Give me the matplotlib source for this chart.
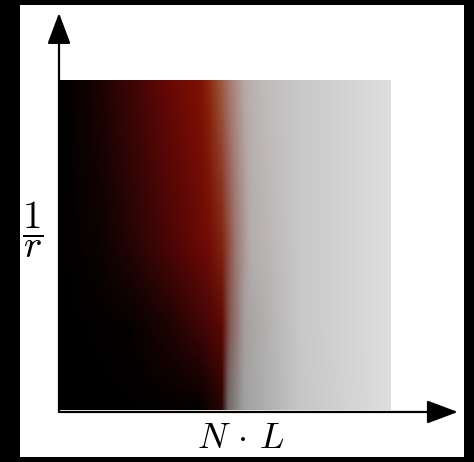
import numpy as np
import matplotlib
matplotlib.use('Agg')
from matplotlib import pyplot as plt
from matplotlib.patches import Rectangle

plt.rcParams['mathtext.fontset'] = 'cm'

# lookup texture: colour stops along N.L for a few values of 1/r
inv_r_rows = [0.0, 0.25, 0.5, 1.0]

nl_row0 = [0.0, 0.423, 0.489, 0.508, 0.556, 0.725, 1.0]
rgb_row0 = [(0, 0, 0), (3, 0, 0), (40, 4, 4), (110, 105, 105),
            (160, 160, 160), (198, 198, 198), (222, 222, 222)]

nl_row1 = [0.0, 0.211, 0.332, 0.423, 0.489, 0.514, 0.559, 0.725, 1.0]
rgb_row1 = [(0, 0, 0), (5, 1, 1), (30, 3, 3), (60, 5, 5), (90, 8, 5),
            (130, 90, 85), (165, 160, 160), (200, 200, 200), (222, 222, 222)]

nl_row2 = [0.0, 0.121, 0.242, 0.363, 0.453, 0.489, 0.529, 0.574, 0.725, 1.0]
rgb_row2 = [(0, 0, 0), (12, 2, 2), (45, 5, 5), (85, 6, 5), (115, 12, 5),
            (128, 35, 15), (155, 115, 110), (180, 172, 172),
            (200, 200, 200), (222, 222, 222)]

nl_row3 = [0.0, 0.091, 0.211, 0.332, 0.423, 0.45, 0.478, 0.51, 0.56, 0.62, 0.725, 1.0]
rgb_row3 = [(0, 0, 0), (20, 2, 2), (60, 5, 5), (105, 8, 5), (126, 16, 3),
            (138, 38, 12), (152, 75, 50), (166, 118, 110), (182, 170, 168),
            (192, 188, 188), (200, 200, 200), (222, 222, 222)]

rows = [(nl_row0, rgb_row0), (nl_row1, rgb_row1), (nl_row2, rgb_row2), (nl_row3, rgb_row3)]

nx, ny = 331, 330
xs = np.linspace(0, 1, nx)
ys = np.linspace(0, 1, ny)

row_img = np.zeros((len(rows), nx, 3))
for i, (stops, cols) in enumerate(rows):
    cols = np.array(cols, dtype=float) / 255
    for c in range(3):
        row_img[i, :, c] = np.interp(xs, stops, cols[:, c])

img = np.zeros((ny, nx, 3))
for j in range(nx):
    for c in range(3):
        img[:, j, c] = np.interp(ys, inv_r_rows, row_img[:, j, c])

W, H = 474, 462
fig = plt.figure(figsize=(W / 100, H / 100), dpi=100)
fig.patch.set_facecolor('black')
fig.patches.append(Rectangle((20 / W, 1 - 457 / H), 444 / W, 452 / H,
                             transform=fig.transFigure, facecolor='white',
                             edgecolor='none', zorder=-5))

ax = fig.add_axes([60 / W, 1 - 410 / H, 331 / W, 330 / H])
ax.set_zorder(2)
ax.patch.set_alpha(0)
ax.imshow(img, extent=[0, 1, 0, 1], origin='lower', aspect='auto', interpolation='bilinear')
ax.set_xlim(0, 1)
ax.set_ylim(0, 1)
ax.axis('off')

arrow = dict(arrowstyle='-|>,head_length=0.8,head_width=0.3', mutation_scale=24,
             lw=1.6, color='black', shrinkA=0, shrinkB=0)
ax.annotate('', xy=(1.202, -0.006), xytext=(-0.003, -0.006), arrowprops=arrow,
            annotation_clip=False)
ax.annotate('', xy=(-0.003, 1.203), xytext=(-0.003, -0.006), arrowprops=arrow,
            annotation_clip=False)

fig.text(33 / W, 1 - 230 / H, r'$\dfrac{1}{r}$', fontsize=28, color='black',
         ha='center', va='center', zorder=3)
fig.text(241 / W, 1 - 438 / H, r'$N\,\cdot\,L$', fontsize=26, color='black',
         ha='center', va='center', zorder=3)

fig.savefig('out.png', dpi=100, facecolor=fig.get_facecolor())
